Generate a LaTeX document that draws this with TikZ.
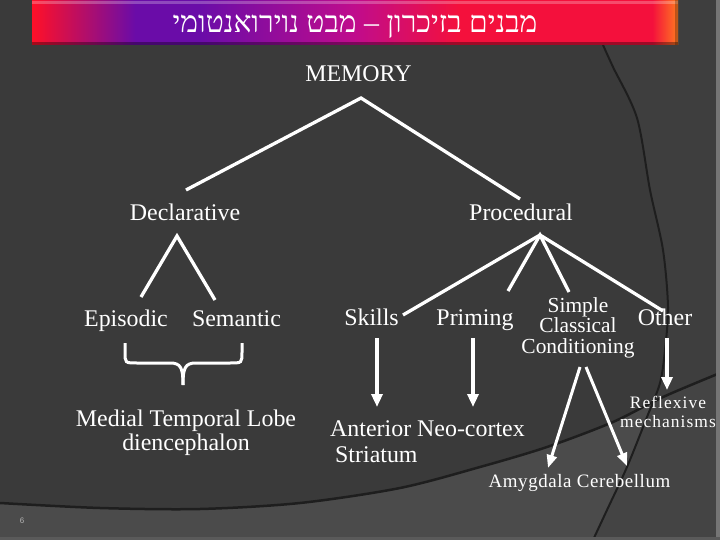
\documentclass[tikz,border=0pt]{standalone}
\usepackage{fontspec}
\setmainfont{Liberation Serif}
\newfontfamily\hebfont[Script=Hebrew]{Liberation Serif}
\newfontfamily\pgnumfont{Liberation Sans}
\TeXXeTstate=1
\usetikzlibrary{arrows.meta}
\definecolor{bgmain}{HTML}{3A3A3A}
\definecolor{bglow}{HTML}{4B4B4B}
\definecolor{bgright}{HTML}{3E3E3E}
\definecolor{bgrightlow}{HTML}{444444}
\definecolor{curvecol}{HTML}{1E1E1E}
\definecolor{tbred}{HTML}{FF1028}
\definecolor{tbpurple}{HTML}{6A0CA8}
\definecolor{tbmag}{HTML}{C00C8C}
\definecolor{tbred2}{HTML}{F4103C}
\definecolor{tborange}{HTML}{FF7A20}
\pgfdeclarehorizontalshading{titlebar}{100bp}{color(0bp)=(tbred); color(25bp)=(tbred); color(33bp)=(tbpurple); color(38bp)=(tbpurple); color(50bp)=(tbmag); color(58bp)=(tbred2); color(73bp)=(tbred2); color(75bp)=(tborange); color(100bp)=(tborange)}
\begin{document}
\begin{tikzpicture}[x=1bp,y=-1bp,
  lbl/.style={text=white, inner sep=0pt, anchor=base, font=\fontsize{24}{26}\selectfont},
  tree/.style={draw=white, line width=3.3bp},
  arr/.style={draw=white, line width=3.5bp, -{Triangle[width=11bp,length=13bp]}},
  thinarr/.style={draw=white, line width=3bp, -{Triangle[width=10bp,length=13bp]}}]
\useasboundingbox (0,0) rectangle (720,540);
% background
\fill[bgmain] (0,0) rectangle (720,540);
\fill[bgright] (595,0) -- plot[smooth] coordinates {(603,45) (613,67) (637,118) (650,190) (663,250) (668,307) (665,350) (660,383) (647,417) (627,467) (607,510) (593,540)} -- (720,540) -- (720,0) -- cycle;
\begin{scope}
  \clip plot[smooth] coordinates {(0,503) (100,508) (200,509) (300,503) (400,488) (480,467) (547,447) (613,422) (663,397) (720,373)} -- (720,540) -- (0,540) -- cycle;
  \fill[bglow] (0,0) rectangle (720,540);
  \fill[bgrightlow] (595,0) -- plot[smooth] coordinates {(603,45) (613,67) (637,118) (650,190) (663,250) (668,307) (665,350) (660,383) (647,417) (627,467) (607,510) (593,540)} -- (720,540) -- (720,0) -- cycle;
\end{scope}
\draw[curvecol, line width=2.5bp] plot[smooth] coordinates {(0,503) (100,508) (200,509) (300,503) (400,488) (480,467) (547,447) (613,422) (663,397) (720,373)};
\draw[curvecol, line width=2bp] plot[smooth] coordinates {(603,45) (613,67) (637,118) (650,190) (663,250) (668,307) (665,350) (660,383) (647,417) (627,467) (607,510) (593,540)};
\fill[white!30!bgmain] (716,0) rectangle (720,540);
\fill[white!8!bglow] (0,537) rectangle (720,540);
% title bar
\shade[shading=titlebar] (32,0) rectangle (678,45);
\fill[white, opacity=0.25] (32,1) rectangle (678,4);
\fill[black, opacity=0.35] (32,42) rectangle (678,45);
\fill[black, opacity=0.25] (675,0) rectangle (678,45);
\node[text=white, inner sep=0pt, anchor=base, font=\hebfont\fontsize{30}{32}\selectfont] (title) at (355,33) {\beginR מבנים בזיכרון – מבט נוירואנטומי\endR};
% labels
\node[lbl] (memory) at (358.5,82) {MEMORY};
\node[lbl] (decl) at (185,221) {Declarative};
\node[lbl] (proc) at (521,221) {Procedural};
\node[lbl] (epi) at (126,326) {Episodic};
\node[lbl] (sem) at (236.5,326) {Semantic};
\node[lbl] (skills) at (371.5,325) {Skills};
\node[lbl] (priming) at (475,325) {Priming};
\node[lbl] (other) at (665,325) {Other};
\node[lbl, align=center, font=\fontsize{21.5}{20.5}\selectfont] (scc) at (578,353) {Simple\\Classical\\Conditioning};
\node[lbl, align=center, font=\fontsize{24}{23.5}\selectfont] (mtl) at (186,450) {Medial Temporal Lobe\\diencephalon};
\node[lbl, align=left, anchor=base west] (anc) at (330,462) {Anterior Neo-cortex\\\hspace*{5bp}Striatum};
\node[lbl, align=center, font=\fontsize{17.5}{19}\selectfont\addfontfeature{LetterSpace=6}] (refl) at (668,427) {Reflexive\\mechanisms};
\node[lbl, font=\fontsize{19}{21}\selectfont\addfontfeature{LetterSpace=3}] (amcb) at (579.5,487) {Amygdala Cerebellum};
\node[text=white!62!bgmain, inner sep=0pt, font=\pgnumfont\fontsize{8}{9}\selectfont] (pgnum) at (22,521) {6};
% connector points
\coordinate (memapex) at (361,98);
\coordinate (declend) at (186,190);
\coordinate (procend) at (520,199);
\coordinate (declapex) at (177,236);
\coordinate (epiend) at (141,297);
\coordinate (semend) at (215,300);
\coordinate (procapex) at (540,235);
\coordinate (skillsend) at (403,315);
\coordinate (primend) at (508,291);
\coordinate (sccend) at (569,292);
\coordinate (otherend) at (663,311);
\coordinate (skillsA) at (377,338);
\coordinate (skillsB) at (377,407);
\coordinate (primA) at (473,338);
\coordinate (primB) at (473,407);
\coordinate (otherA) at (667,338);
\coordinate (otherB) at (667,390);
\coordinate (sccA) at (580,367);
\coordinate (amyB) at (548,468);
\coordinate (sccC) at (586,367);
\coordinate (cerB) at (627,466);
% tree lines
\draw[tree] (declend) -- (memapex) -- (procend);
\draw[tree] (epiend) -- (declapex) -- (semend);
\draw[tree] (skillsend) -- (procapex) -- (otherend);
\draw[tree] (primend) -- (procapex) -- (sccend);
% arrows
\draw[arr] (skillsA) -- (skillsB);
\draw[arr] (primA) -- (primB);
\draw[arr] (otherA) -- (otherB);
\draw[thinarr] (sccA) -- (amyB);
\draw[thinarr] (sccC) -- (cerB);
% brace
\draw[tree, line width=3bp] (125,343) -- (125,352) .. controls (125,363) .. (137,363) -- (170,363) .. controls (181,363) and (183,368) .. (183,385);
\draw[tree, line width=3bp] (242,343) -- (242,352) .. controls (242,363) .. (230,363) -- (196,363) .. controls (185,363) and (183,368) .. (183,385);
\end{tikzpicture}
\end{document}
